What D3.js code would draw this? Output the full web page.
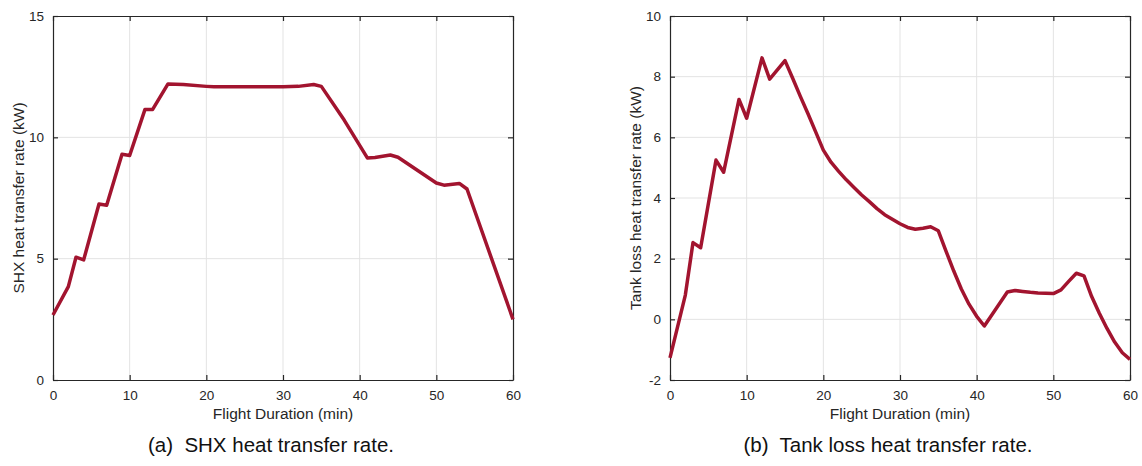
<!DOCTYPE html>
<html>
<head>
<meta charset="utf-8">
<script src="https://cdn.jsdelivr.net/npm/d3@7"></script>
<style>
  html, body { margin: 0; padding: 0; background: #fff; }
  svg { display: block; }
  text { font-family: "Liberation Sans", Arial, Helvetica, sans-serif; }
</style>
</head>
<body>
<svg id="chart" width="1142" height="466"></svg>
<script>
// Flight time (min) and heat transfer rates (kW)
const shxTime = [0, 2, 3, 4, 6, 7, 9, 10, 12, 13, 15, 17, 20, 21, 25, 30, 32, 34, 35, 38, 41, 42, 44, 45, 50, 51, 53, 54, 60];
const shxRate = [2.68, 3.85, 5.06, 4.95, 7.25, 7.2, 9.3, 9.25, 11.15, 11.15, 12.2, 12.18, 12.1, 12.08, 12.08, 12.08, 12.1, 12.18, 12.1, 10.7, 9.15, 9.17, 9.27, 9.18, 8.12, 8.03, 8.1, 7.87, 2.5];

const tankTime = [0, 2, 3, 4, 6, 7, 9, 10, 12, 13, 15, 16, 17, 18, 19, 20, 21, 22, 23, 24, 25, 26, 27, 28, 29, 30, 31, 32, 33, 34, 35, 36, 37, 38, 39, 40, 41, 44, 45, 46, 47, 48, 49, 50, 51, 52, 53, 54, 55, 56, 57, 58, 59, 60];
const tankRate = [-1.27, 0.8, 2.53, 2.36, 5.25, 4.85, 7.25, 6.63, 8.62, 7.92, 8.53, 7.95, 7.35, 6.78, 6.18, 5.58, 5.18, 4.88, 4.6, 4.35, 4.1, 3.88, 3.65, 3.45, 3.3, 3.15, 3.03, 2.97, 3.0, 3.05, 2.92, 2.25, 1.6, 1.0, 0.5, 0.1, -0.22, 0.9, 0.95, 0.92, 0.89, 0.87, 0.86, 0.85, 0.97, 1.25, 1.52, 1.43, 0.75, 0.2, -0.3, -0.75, -1.1, -1.32];

const xTicks = [0, 10, 20, 30, 40, 50, 60];
const shxTicks = [0, 5, 10, 15];
const tankTicks = [-2, 0, 2, 4, 6, 8, 10];

const xLabel = "Flight Duration (min)";
const shxLabel = "SHX heat transfer rate (kW)";
const tankLabel = "Tank loss heat transfer rate (kW)";
const shxCaption = "(a)  SHX heat transfer rate.";
const tankCaption = "(b)  Tank loss heat transfer rate.";

const lineColor = "#a2142f";
const axisColor = "#262626";
const gridColor = "#e3e3e3";

const svg = d3.select("#chart");

function panel(opts) {
  const { left, right, top, bottom, xs, ys, yDomain, yTicks, yLabel, yLabelX, caption } = opts;
  const x = d3.scaleLinear().domain([0, 60]).range([left, right]);
  const y = d3.scaleLinear().domain(yDomain).range([bottom, top]);
  const g = svg.append("g");

  // grid
  g.append("g").selectAll("line").data(xTicks.slice(1, -1)).join("line")
    .attr("x1", d => x(d)).attr("x2", d => x(d))
    .attr("y1", top).attr("y2", bottom)
    .attr("stroke", gridColor).attr("stroke-width", 1);
  g.append("g").selectAll("line").data(yTicks.slice(1, -1)).join("line")
    .attr("x1", left).attr("x2", right)
    .attr("y1", d => y(d)).attr("y2", d => y(d))
    .attr("stroke", gridColor).attr("stroke-width", 1);

  // axes with inward ticks on all four sides
  const tl = 5;
  const bottomAxis = g.append("g").attr("transform", `translate(0,${bottom})`)
    .call(d3.axisBottom(x).tickValues(xTicks).tickSizeInner(-tl).tickSizeOuter(0).tickPadding(10));
  const topAxis = g.append("g").attr("transform", `translate(0,${top})`)
    .call(d3.axisTop(x).tickValues(xTicks).tickSizeInner(-tl).tickSizeOuter(0).tickFormat(""));
  const leftAxis = g.append("g").attr("transform", `translate(${left},0)`)
    .call(d3.axisLeft(y).tickValues(yTicks).tickSizeInner(-tl).tickSizeOuter(0).tickPadding(tl + 4)
      .tickFormat(d => String(d)));
  const rightAxis = g.append("g").attr("transform", `translate(${right},0)`)
    .call(d3.axisRight(y).tickValues(yTicks).tickSizeInner(-tl).tickSizeOuter(0).tickFormat(""));

  [bottomAxis, topAxis, leftAxis, rightAxis].forEach(a => {
    a.select(".domain").attr("stroke", axisColor).attr("stroke-width", 1.2);
    a.selectAll(".tick line").attr("stroke", axisColor).attr("stroke-width", 1.2);
    a.selectAll("text").attr("fill", axisColor).style("font-size", "13.5px")
      .style("font-family", "'Liberation Sans', Arial, sans-serif");
  });

  // data line
  const data = xs.map((t, i) => [t, ys[i]]);
  g.append("path").datum(data)
    .attr("fill", "none").attr("stroke", lineColor)
    .attr("stroke-width", 3.5).attr("stroke-linejoin", "round").attr("stroke-linecap", "butt")
    .attr("d", d3.line().x(d => x(d[0])).y(d => y(d[1])));

  // axis titles
  g.append("text").attr("x", (left + right) / 2).attr("y", 419)
    .attr("text-anchor", "middle").attr("fill", axisColor)
    .style("font-size", "15.5px").text(xLabel);
  g.append("text")
    .attr("transform", `translate(${yLabelX},${(top + bottom) / 2}) rotate(-90)`)
    .attr("text-anchor", "middle").attr("fill", axisColor)
    .style("font-size", "15.5px").text(yLabel);

  // caption
  g.append("text").attr("x", (left + right) / 2 - 12).attr("y", 452)
    .attr("text-anchor", "middle").attr("fill", "#111")
    .style("font-size", "20.5px").style("white-space", "pre")
    .text(caption);
}

panel({ left: 53, right: 513, top: 16, bottom: 380, xs: shxTime, ys: shxRate,
  yDomain: [0, 15], yTicks: shxTicks, yLabel: shxLabel, yLabelX: 24, caption: shxCaption });
panel({ left: 670, right: 1130, top: 16, bottom: 380, xs: tankTime, ys: tankRate,
  yDomain: [-2, 10], yTicks: tankTicks, yLabel: tankLabel, yLabelX: 641, caption: tankCaption });
</script>
</body>
</html>
